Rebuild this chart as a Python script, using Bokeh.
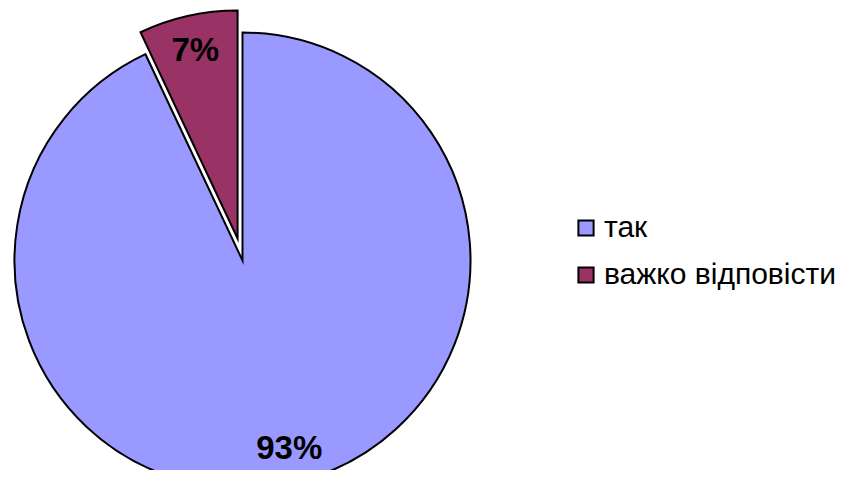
import numpy as np
from bokeh.plotting import figure
from bokeh.models import Range1d, Legend, LegendItem, ColumnDataSource
from bokeh.core.properties import value
from bokeh.embed import file_html
from bokeh.resources import INLINE

labels = ["так", "важко відповісти"]
values = [93, 7]
pct_text = ["93%", "7%"]
colors = ["#9999FF", "#993366"]
explode = [0.0, 22.5]

W, H = 843, 470
cx, cy, R = 242, 210, 228

p = figure(width=W, height=H, output_backend="svg", toolbar_location=None,
           x_range=Range1d(0, W), y_range=Range1d(0, H), min_border=0)
p.axis.visible = False
p.grid.visible = False
p.outline_line_color = None
p.background_fill_color = "white"

vals = np.array(values, dtype=float)
frac = vals / vals.sum()
# slice 2 (7%) goes counterclockwise from top; slice 1 fills the rest
ang2_start = np.pi / 2
ang2_end = ang2_start + frac[1] * 2 * np.pi
starts = [ang2_end, ang2_start]
ends = [ang2_start + 2 * np.pi, ang2_end]
mids = [(s + e) / 2 for s, e in zip(starts, ends)]
xs = [cx + explode[i] * np.cos(mids[i]) for i in range(2)]
ys = [cy + explode[i] * np.sin(mids[i]) for i in range(2)]

items = []
for i in range(2):
    r = p.wedge(x=xs[i], y=ys[i], radius=R, start_angle=starts[i], end_angle=ends[i],
                fill_color=colors[i], line_color="black", line_width=2, line_join="miter")
    items.append(LegendItem(label=labels[i], renderers=[r]))

lfrac = [0.84, 0.85]
lx = [xs[i] + lfrac[i] * R * np.cos(mids[i]) for i in range(2)]
ly = [ys[i] + lfrac[i] * R * np.sin(mids[i]) for i in range(2)]
lx[0] += 5
src = ColumnDataSource(dict(x=lx, y=ly, t=pct_text))
p.text(x="x", y="y", text="t", source=src, text_font=value("Liberation Sans"),
       text_font_style="bold", text_font_size="33px", text_align="center",
       text_baseline="middle", text_color="black")

legend = Legend(items=items, location=(576, 176), orientation="vertical",
                glyph_width=19, glyph_height=19, label_text_font="Liberation Sans",
                label_text_font_size="30px", label_text_color="black",
                label_standoff=9, label_height=40, spacing=7,
                padding=0, margin=0, border_line_color=None, background_fill_alpha=0)
p.add_layout(legend)

open("out.html", "w").write(file_html(p, INLINE))
